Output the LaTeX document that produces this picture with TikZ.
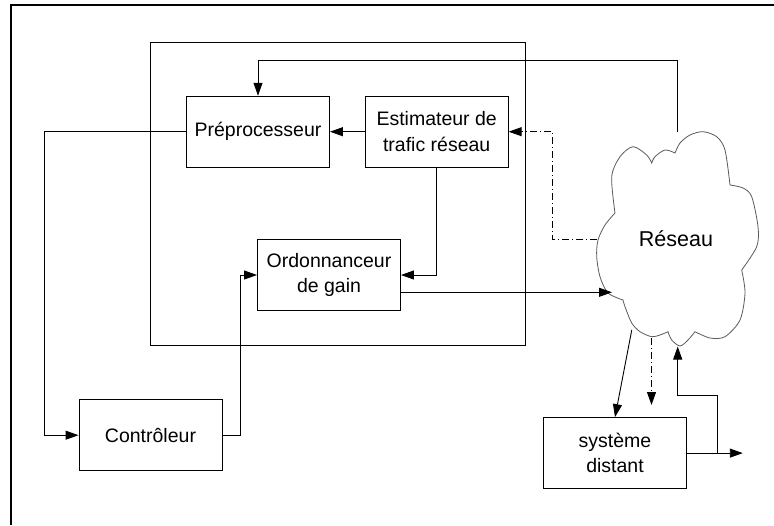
\documentclass[tikz,border=0pt]{standalone}
\usepackage{fontspec}
\setmainfont{Liberation Sans}
\usetikzlibrary{arrows.meta}
\begin{document}
\begin{tikzpicture}[x=1pt,y=-1pt,line width=0.9pt,
    bloc/.style={draw,minimum width=143pt,minimum height=71pt,inner sep=0pt,
      align=center,font=\fontsize{19.5}{25.5}\selectfont},
    fl/.style={-{Triangle[length=13pt,width=9pt]}},
    tiret/.style={dash pattern=on 7pt off 3pt on 1pt off 3pt},
    nuage/.style={draw={rgb,255:red,90;green,90;blue,90},line width=0.8pt}]
        \useasboundingbox (0,0) rectangle (774,525);
        \draw[line width=2pt] (11,525) -- (11,5) -- (774,5);
        \draw (150.5,42.5) rectangle (525.7,345.8);
        \node[bloc] (pre) at (258,131.7) {Préprocesseur};
        \node[bloc] (est) at (436.7,131.7) {Estimateur de\\trafic réseau};
        \node[bloc] (ord) at (329,275) {Ordonnanceur\\de gain};
        \node[bloc] (ctrl) at (150.5,435.2) {Contrôleur};
        \node[bloc] (sys) at (615,453.1) {système\\distant};
        \draw[nuage] plot[smooth] coordinates {(615,213) (611.7,176.7) (620,156.7) (633,146.7) (646.7,155) (651.7,163)}
            -- plot[smooth] coordinates {(651.7,163) (655,156.7) (665,150) (675,153)}
            -- plot[smooth] coordinates {(675,153) (680,143) (690,135) (703,131.7) (716.7,136.7) (725,150) (730,185)}
            -- plot[smooth] coordinates {(730,185) (743,188) (751.7,196.7) (758,226.7) (756.7,246.7) (741.7,270)}
            -- plot[smooth] coordinates {(741.7,270) (745,293) (740,320) (725,336.7) (710,338) (695,331.7)}
            -- plot[smooth] coordinates {(695,331.7) (688,340) (680,346) (671.7,340) (668,331.7)}
            -- plot[smooth] coordinates {(668,331.7) (660,335) (651.7,336.7) (640,331.7) (631.7,323) (625,306.7) (623,300)}
            -- plot[smooth] coordinates {(623,300) (608,293) (600,276.7) (596.7,256.7) (598,240) (605,225) (615,213)}
            -- cycle;
        \node[font=\fontsize{21.5}{26}\selectfont] (reseau) at (676,239) {Réseau};
        \coordinate (netA) at (677.7,131.6);
        \coordinate (netB) at (612,292.3);
        \coordinate (netC) at (597,239.4);
        \coordinate (netD) at (631.8,329.8);
        \coordinate (netE) at (651.5,338);
        \coordinate (attente) at (651.5,405);
        \coordinate (netF) at (677.7,346.5);
        \coordinate (sortie) at (742.8,453.1);
        \coordinate (retour) at (717.2,453.1);
        \draw[fl] (netA) -- (677.7,60.3) -| (pre.north);
        \draw[fl] (est) -- (pre);
        \draw[fl] (pre.west) -- (44.4,131.7) |- (ctrl.west);
        \draw[fl] (ctrl.east) -- (240.4,435.2) |- (ord.west);
        \draw[fl] (est.south) |- (ord.east);
        \draw[fl] (netB -| ord.east) -- (netB);
        \draw[fl,tiret] (netC) -- (552.8,239.4) |- (est.east);
        \draw[fl] (netD) -- (sys.north);
        \draw[fl,tiret] (netE) -- (attente);
        \draw[fl] (sys.east) -- (sortie);
        \draw[fl] (retour) -- (717.2,395) -| (netF);
\end{tikzpicture}
\end{document}
